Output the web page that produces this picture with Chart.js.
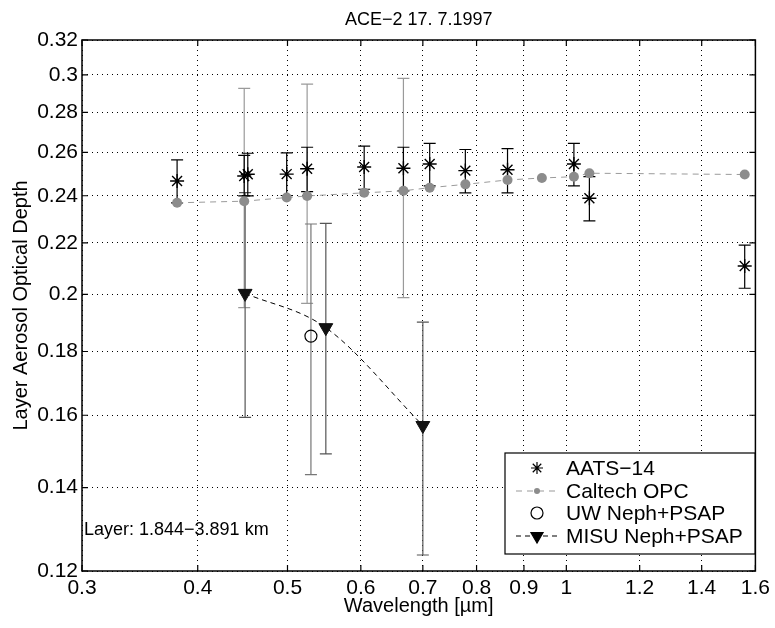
<!DOCTYPE html>
<html>
<head>
<meta charset="utf-8">
<script src="https://cdn.jsdelivr.net/npm/chart.js@4/dist/chart.umd.min.js"></script>
<style>
  html, body { margin: 0; padding: 0; background: #fff; }
  #wrap { width: 775px; height: 628px; }
</style>
</head>
<body>
<div id="wrap"><canvas id="plots" width="775" height="628"></canvas></div>
<script>
// Axis ticks
var xTicks = [0.3, 0.4, 0.5, 0.6, 0.7, 0.8, 0.9, 1, 1.2, 1.4, 1.6];
var yTicks = [0.12, 0.14, 0.16, 0.18, 0.2, 0.22, 0.24, 0.26, 0.28, 0.3, 0.32];

// AATS-14 sun photometer
var aatsWl = [0.380, 0.449, 0.453, 0.499, 0.525, 0.605, 0.667, 0.712, 0.778, 0.864, 1.019, 1.059, 1.558];
var aatsAod = [0.2466, 0.2489, 0.2497, 0.2498, 0.2523, 0.2531, 0.2525, 0.2545, 0.2514, 0.2518, 0.2545, 0.2389, 0.2108];
var aatsLo = [0.2369, 0.2399, 0.2399, 0.2401, 0.2418, 0.2429, 0.2422, 0.2444, 0.2413, 0.2413, 0.2444, 0.2291, 0.2023];
var aatsHi = [0.2564, 0.2586, 0.2596, 0.2598, 0.2625, 0.2630, 0.2625, 0.2644, 0.2614, 0.2618, 0.2644, 0.2486, 0.2191];

// Caltech OPC
var optWl = [0.380, 0.449, 0.499, 0.525, 0.605, 0.667, 0.712, 0.778, 0.864, 0.941, 1.019, 1.059, 1.558];
var optAod = [0.2369, 0.2376, 0.2392, 0.2399, 0.2413, 0.2422, 0.2436, 0.2451, 0.2471, 0.2480, 0.2486, 0.2502, 0.2496];
var optLo = [null, 0.1952, null, 0.1967, null, 0.1988, null, null, null, null, null, null, null];
var optHi = [null, 0.2927, null, 0.2950, null, 0.2981, null, null, null, null, null, null, null];

// UW Neph+PSAP
var uwWl = [0.53];
var uwAod = [0.1852];
var uwLo = [0.1434];
var uwHi = [0.2278];

// MISU Neph+PSAP
var misuWl = [0.45, 0.55, 0.70];
var misuAod = [0.2004, 0.1881, 0.1570];
var misuLo = [0.1594, 0.1490, 0.1236];
var misuHi = [0.2414, 0.2281, 0.1900];

function pts(xs, ys) {
  return xs.map(function (x, i) { return {x: x, y: ys[i]}; });
}

var FONT = "'Liberation Sans', Arial, Helvetica, sans-serif";

// error bars per series, drawn under the markers
var errSets = [
  {xs: optWl, lo: optLo, hi: optHi, color: '#9a9a9a', cap: 6},
  {xs: misuWl, lo: misuLo, hi: misuHi, color: '#555555', cap: 6},
  {xs: uwWl, lo: uwLo, hi: uwHi, color: '#777777', cap: 6},
  {xs: aatsWl, lo: aatsLo, hi: aatsHi, color: '#000000', cap: 6}
];

var errorBars = {
  id: 'errorBars',
  beforeDatasetsDraw: function (chart) {
    var ctx = chart.ctx, xs = chart.scales.x, ys = chart.scales.y;
    ctx.save();
    errSets.forEach(function (s) {
      ctx.strokeStyle = s.color;
      ctx.lineWidth = 1.2;
      s.xs.forEach(function (x, i) {
        if (s.lo[i] == null) return;
        var px = xs.getPixelForValue(x);
        var pl = ys.getPixelForValue(s.lo[i]);
        var ph = ys.getPixelForValue(s.hi[i]);
        ctx.beginPath();
        ctx.moveTo(px, pl); ctx.lineTo(px, ph);
        ctx.moveTo(px - s.cap, pl); ctx.lineTo(px + s.cap, pl);
        ctx.moveTo(px - s.cap, ph); ctx.lineTo(px + s.cap, ph);
        ctx.stroke();
      });
    });
    ctx.restore();
  }
};

// box, inward ticks, title, text label and legend
var frame = {
  id: 'frame',
  afterDraw: function (chart) {
    var ctx = chart.ctx, a = chart.chartArea, xs = chart.scales.x, ys = chart.scales.y;
    ctx.save();
    ctx.strokeStyle = '#000';
    ctx.lineWidth = 1.5;
    ctx.strokeRect(a.left, a.top, a.right - a.left, a.bottom - a.top);
    ctx.lineWidth = 1.2;
    ctx.beginPath();
    xTicks.forEach(function (v) {
      var p = xs.getPixelForValue(v);
      ctx.moveTo(p, a.bottom); ctx.lineTo(p, a.bottom - 6);
      ctx.moveTo(p, a.top); ctx.lineTo(p, a.top + 6);
    });
    yTicks.forEach(function (v) {
      var p = ys.getPixelForValue(v);
      ctx.moveTo(a.left, p); ctx.lineTo(a.left + 6, p);
      ctx.moveTo(a.right, p); ctx.lineTo(a.right - 6, p);
    });
    ctx.stroke();

    ctx.fillStyle = '#000';
    ctx.textBaseline = 'middle';
    ctx.textAlign = 'center';
    ctx.font = '18px ' + FONT;
    ctx.fillText('ACE\u22122 17. 7.1997', (a.left + a.right) / 2, 20);

    ctx.textAlign = 'left';
    ctx.font = '18px ' + FONT;
    ctx.fillText('Layer: 1.844\u22123.891 km', a.left + 2, 530);

    // legend
    var lx = 505, ly = 453, lw = 250, lh = 101;
    ctx.fillStyle = '#fff';
    ctx.fillRect(lx, ly, lw, lh);
    ctx.lineWidth = 1.2;
    ctx.strokeStyle = '#000';
    ctx.strokeRect(lx, ly, lw, lh);
    var rows = [
      {label: 'AATS\u221214', y: 468},
      {label: 'Caltech OPC', y: 491},
      {label: 'UW Neph+PSAP', y: 513},
      {label: 'MISU Neph+PSAP', y: 536}
    ];
    var mx = 537;
    rows.forEach(function (r, i) {
      ctx.fillStyle = '#000';
      ctx.font = '21px ' + FONT;
      ctx.textAlign = 'left';
      ctx.fillText(r.label, 566, r.y + 1);
      if (i === 0) {
        Chart.helpers.drawPoint(ctx, {pointStyle: 'star', radius: 6, borderWidth: 1.2}, mx, r.y);
      } else if (i === 1) {
        ctx.strokeStyle = '#9a9a9a';
        ctx.setLineDash([6, 5]);
        ctx.beginPath(); ctx.moveTo(516, r.y); ctx.lineTo(560, r.y); ctx.stroke();
        ctx.setLineDash([]);
        ctx.fillStyle = '#8c8c8c';
        ctx.beginPath(); ctx.arc(mx, r.y, 3, 0, Math.PI * 2); ctx.fill();
      } else if (i === 2) {
        ctx.strokeStyle = '#000';
        ctx.beginPath(); ctx.arc(mx, r.y, 6, 0, Math.PI * 2); ctx.stroke();
      } else {
        ctx.strokeStyle = '#000';
        ctx.setLineDash([5, 4]);
        ctx.beginPath(); ctx.moveTo(516, r.y); ctx.lineTo(560, r.y); ctx.stroke();
        ctx.setLineDash([]);
        ctx.fillStyle = '#000';
        Chart.helpers.drawPoint(ctx, {pointStyle: 'triangle', radius: 7, rotation: 180, borderWidth: 1}, mx, r.y);
      }
      ctx.strokeStyle = '#000';
    });
    ctx.restore();
  }
};

var plots = document.getElementById('plots');
new Chart(plots, {
  type: 'scatter',
  data: {
    datasets: [
      {
        label: 'Caltech OPC',
        data: pts(optWl, optAod),
        showLine: true,
        borderColor: '#9a9a9a',
        borderWidth: 1,
        borderDash: [6, 5],
        pointStyle: 'circle',
        pointRadius: 5,
        pointBackgroundColor: '#8c8c8c',
        pointBorderColor: '#8c8c8c',
        pointBorderWidth: 0
      },
      {
        label: 'MISU Neph+PSAP',
        data: pts(misuWl, misuAod),
        showLine: true,
        borderColor: '#000',
        borderWidth: 1,
        borderDash: [5, 4],
        cubicInterpolationMode: 'monotone',
        pointStyle: 'triangle',
        rotation: 180,
        pointRadius: 8,
        pointBackgroundColor: '#111',
        pointBorderColor: '#111'
      },
      {
        label: 'UW Neph+PSAP',
        data: pts(uwWl, uwAod),
        pointStyle: 'circle',
        pointRadius: 6,
        pointBackgroundColor: 'rgba(0,0,0,0)',
        pointBorderColor: '#000',
        pointBorderWidth: 1.2
      },
      {
        label: 'AATS-14',
        data: pts(aatsWl, aatsAod),
        pointStyle: 'star',
        pointRadius: 7,
        pointBorderColor: '#000',
        pointBorderWidth: 1.4
      }
    ]
  },
  options: {
    responsive: false,
    animation: false,
    layout: {padding: {left: 0, right: 18, top: 40, bottom: 0}},
    plugins: {
      legend: {display: false},
      tooltip: {enabled: false},
      title: {display: false}
    },
    scales: {
      x: {
        type: 'logarithmic',
        min: 0.3,
        max: 1.6,
        afterBuildTicks: function (axis) { axis.ticks = xTicks.map(function (v) { return {value: v}; }); },
        afterFit: function (axis) { axis.height = 57; },
        ticks: {
          color: '#000',
          font: {family: FONT, size: 21},
          padding: 5,
          maxRotation: 0,
          autoSkip: false,
          callback: function (v) { return String(+v.toFixed(2)); }
        },
        grid: {color: '#000', lineWidth: 1, drawTicks: false},
        border: {display: false, dash: [1, 4]},
        title: {
          display: true,
          text: 'Wavelength [\u00b5m]',
          color: '#000',
          font: {family: FONT, size: 20},
          padding: {top: 0, bottom: 10}
        }
      },
      y: {
        type: 'logarithmic',
        min: 0.12,
        max: 0.32,
        afterBuildTicks: function (axis) { axis.ticks = yTicks.map(function (v) { return {value: v}; }); },
        afterFit: function (axis) { axis.width = 82; },
        ticks: {
          color: '#000',
          font: {family: FONT, size: 21},
          padding: 4,
          autoSkip: false,
          callback: function (v) { return String(+v.toFixed(2)); }
        },
        grid: {color: '#000', lineWidth: 1, drawTicks: false},
        border: {display: false, dash: [1, 4]},
        title: {
          display: true,
          text: 'Layer Aerosol Optical Depth',
          color: '#000',
          font: {family: FONT, size: 20},
          padding: {top: 9, bottom: 0}
        }
      }
    }
  },
  plugins: [errorBars, frame]
});
</script>
</body>
</html>
